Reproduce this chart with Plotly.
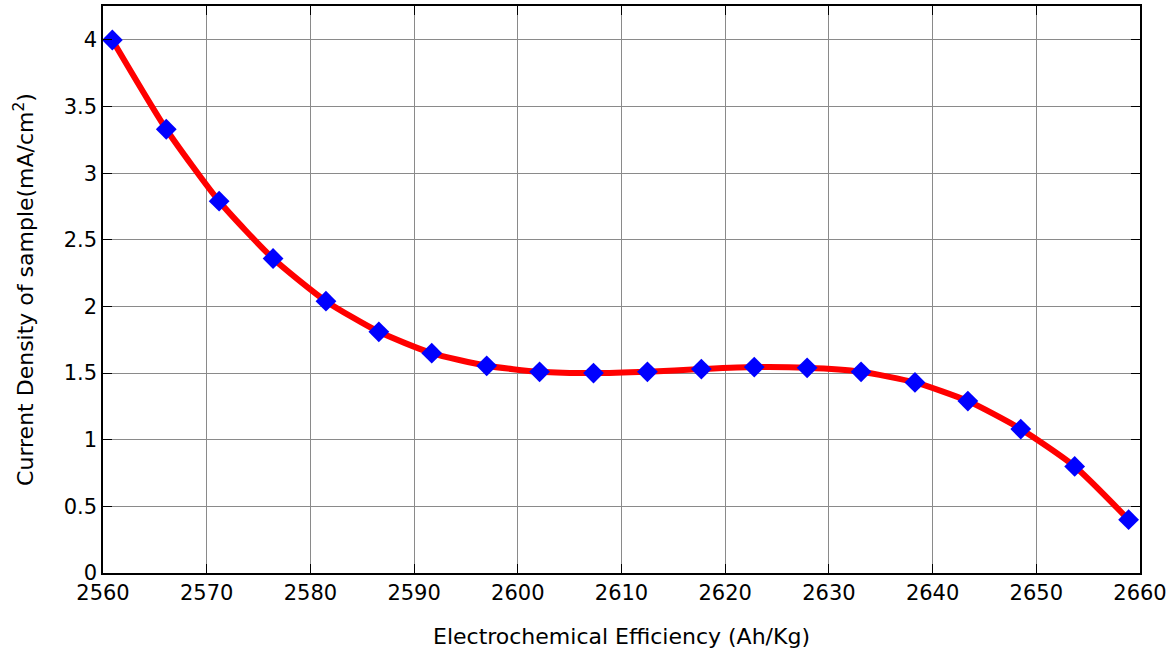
import plotly.graph_objects as go

efficiency = [2560.9, 2566.1, 2571.2, 2576.4, 2581.5, 2586.6, 2591.7, 2597.0, 2602.1, 2607.3,
              2612.5, 2617.7, 2622.8, 2627.9, 2633.1, 2638.3, 2643.4, 2648.5, 2653.7, 2658.9]
current_density = [4.0, 3.33, 2.79, 2.36, 2.04, 1.81, 1.65, 1.555, 1.51, 1.50,
                   1.51, 1.53, 1.545, 1.54, 1.51, 1.43, 1.29, 1.08, 0.80, 0.40]

fig = go.Figure()
fig.add_trace(go.Scatter(
    x=efficiency, y=current_density, mode="lines+markers",
    line=dict(color="red", width=6, shape="spline", smoothing=0.6),
    marker=dict(symbol="diamond", size=16, color="blue"),
    showlegend=False,
))

axis_common = dict(
    showline=True, linecolor="black", linewidth=1.5, mirror="ticks",
    ticks="inside", ticklen=9, tickcolor="black",
    showgrid=True, gridcolor="#8a8a8a", gridwidth=1, zeroline=False,
    tickfont=dict(family="DejaVu Sans", size=21, color="black"),
)

fig.update_layout(
    width=1175, height=656,
    margin=dict(l=103, r=35, t=6, b=83),
    plot_bgcolor="white", paper_bgcolor="white",
    font=dict(family="DejaVu Sans", color="black"),
    xaxis=dict(range=[2560, 2660], dtick=10,
               title=dict(text="Electrochemical Efficiency (Ah/Kg)", font=dict(size=22), standoff=25),
               automargin=False,
               **axis_common),
    yaxis=dict(range=[0, 4.255], dtick=0.5,
               title=dict(text="Current Density of sample(mA/cm<sup>2</sup>)", font=dict(size=22), standoff=24),
               automargin=False,
               **axis_common),
)

fig.write_html("out.html", config={"displayModeBar": False},
               post_script="document.body.style.margin='0';")
